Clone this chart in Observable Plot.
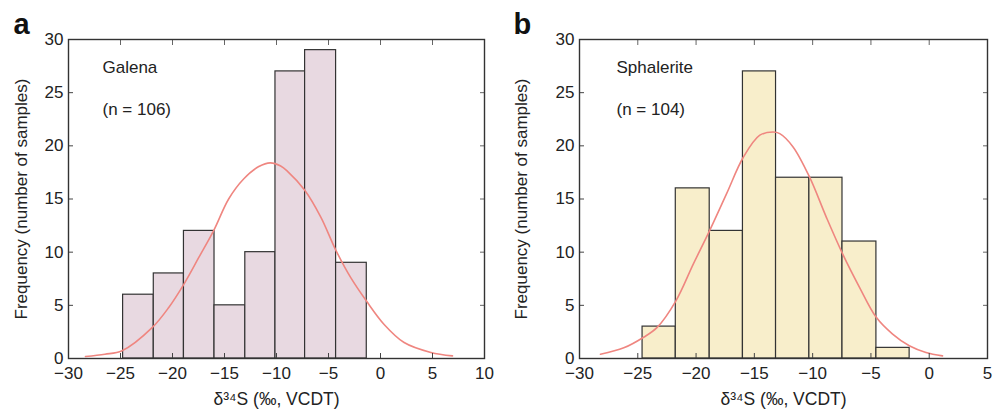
<!DOCTYPE html>
<html><head><meta charset="utf-8">
<script src="https://cdn.jsdelivr.net/npm/d3@7"></script>
<script src="https://cdn.jsdelivr.net/npm/@observablehq/plot@0.6"></script>
<style>
body{margin:0;background:#fff;}
#wrap{position:relative;width:1003px;height:414px;overflow:hidden;}
.panel{position:absolute;top:0;}
</style></head><body><div id="wrap"></div>
<script>
// Panel a: Galena
const galenaEdges = [-24.75, -21.8, -18.9, -15.96, -13.0, -10.1, -7.25, -4.27, -1.32];
const galenaCounts = [6, 8, 12, 5, 10, 27, 29, 9];
const galenaCurveX = [-28.37, -26.5, -24.85, -21.96, -20.36, -18.9, -17.47, -16.03, -14.6, -13.14, -11.7, -10.6, -9.6, -8.94, -7.3, -5.74, -4.3, -2.86, -1.35, 0.35, 2.27, 4.84, 6.92];
const galenaCurveY = [0.19, 0.4, 0.73, 2.9, 4.8, 7.0, 9.5, 12.05, 15.0, 16.9, 18.05, 18.4, 18.1, 17.6, 15.85, 13.3, 10.2, 7.6, 5.4, 3.2, 1.5, 0.57, 0.25];
// Panel b: Sphalerite
const sphalEdges = [-24.59, -21.74, -18.83, -15.98, -13.14, -10.28, -7.44, -4.53, -1.68];
const sphalCounts = [3, 16, 12, 27, 17, 17, 11, 1];
const sphalCurveX = [-28.2, -26.2, -24.5, -23.36, -21.74, -20.23, -18.89, -17.38, -15.96, -14.53, -13.4, -12.82, -11.68, -10.26, -8.83, -7.41, -5.98, -4.56, -3.14, -1.71, -0.28, 1.14];
const sphalCurveY = [0.4, 1.0, 2.0, 2.9, 5.4, 8.9, 11.9, 15.5, 18.9, 21.0, 21.3, 21.15, 19.9, 17.05, 13.3, 9.8, 6.7, 3.9, 2.3, 1.2, 0.57, 0.25];
// Axes
const xTicksA = [-30, -25, -20, -15, -10, -5, 0, 5, 10];
const xTicksB = [-30, -25, -20, -15, -10, -5, 0, 5];
const yTicks = [0, 5, 10, 15, 20, 25, 30];
const xDomainA = [-30, 10];
const xDomainB = [-30, 5];
const yDomain = [0, 30];

const FONT = '"Liberation Sans", Arial, Helvetica, sans-serif';

function panel({letter, name, n, edges, counts, cx, cy, xTicks, xDomain, fill, width, marginLeft, nameDx, left}) {
  const bins = counts.map((c, i) => ({x1: edges[i], x2: edges[i + 1], y: c}));
  const curve = cx.map((x, i) => ({x, y: cy[i]}));
  const one = [0];
  const p = Plot.plot({
    width, height: 414,
    marginLeft, marginRight: 16, marginTop: 39, marginBottom: 56,
    style: {fontFamily: FONT, fontSize: "17px", color: "#222", background: "#fff", overflow: "visible"},
    x: {domain: xDomain, ticks: xTicks},
    y: {domain: yDomain, ticks: yTicks},
    marks: [
      Plot.rectY(bins, {x1: "x1", x2: "x2", y: "y", fill, stroke: "#333", strokeWidth: 1.2}),
      Plot.line(curve, {x: "x", y: "y", stroke: "#ef8680", strokeWidth: 1.6, curve: "catmull-rom"}),
      Plot.axisX(xTicks, {anchor: "bottom", tickSize: -5, tickPadding: 13, label: null, tickFormat: d => d < 0 ? "\u2212" + Math.abs(d) : String(d), fontSize: 17, stroke: "#444"}),
      Plot.axisX(xTicks, {anchor: "top", tickSize: -5, tickFormat: () => "", label: null, stroke: "#666"}),
      Plot.axisY(yTicks, {anchor: "left", tickSize: -5, tickPadding: 10, label: null, fontSize: 17, stroke: "#444"}),
      Plot.axisY(yTicks, {anchor: "right", tickSize: -5, tickFormat: () => "", label: null, stroke: "#666"}),
      Plot.frame({stroke: "#333", strokeWidth: 1.4}),
      Plot.text(one, {frameAnchor: "top-left", text: [name], dx: nameDx, dy: 28, textAnchor: "start", lineAnchor: "middle", fontSize: 17, fill: "#222"}),
      Plot.text(one, {frameAnchor: "top-left", text: ["(n = " + n + ")"], dx: nameDx, dy: 70, textAnchor: "start", lineAnchor: "middle", fontSize: 17, fill: "#222"}),
      Plot.text(one, {frameAnchor: "top-left", text: [letter], dx: -(marginLeft - 13), dy: -15, textAnchor: "start", lineAnchor: "middle", fontSize: 29, fontWeight: "bold", fill: "#111"}),
      Plot.text(one, {frameAnchor: "left", text: ["Frequency (number of samples)"], dx: -(marginLeft - 21), rotate: -90, textAnchor: "middle", lineAnchor: "middle", fontSize: 17, fill: "#222"}),
      Plot.text(one, {frameAnchor: "bottom", text: ["\u03b4\u00b3\u2074S (\u2030, VCDT)"], dy: 41, lineAnchor: "middle", fontSize: 17.5, fill: "#222"})
    ]
  });
  const div = document.createElement("div");
  div.className = "panel";
  div.style.left = left + "px";
  div.appendChild(p);
  document.getElementById("wrap").appendChild(div);
}

panel({letter: "a", name: "Galena", n: 106, edges: galenaEdges, counts: galenaCounts, cx: galenaCurveX, cy: galenaCurveY,
  xTicks: xTicksA, xDomain: xDomainA, fill: "#e8d9e1", width: 500, marginLeft: 68, nameDx: 34, left: 0});
panel({letter: "b", name: "Sphalerite", n: 104, edges: sphalEdges, counts: sphalCounts, cx: sphalCurveX, cy: sphalCurveY,
  xTicks: xTicksB, xDomain: xDomainB, fill: "#f8eecb", width: 503, marginLeft: 79, nameDx: 37, left: 500});
</script></body></html>
